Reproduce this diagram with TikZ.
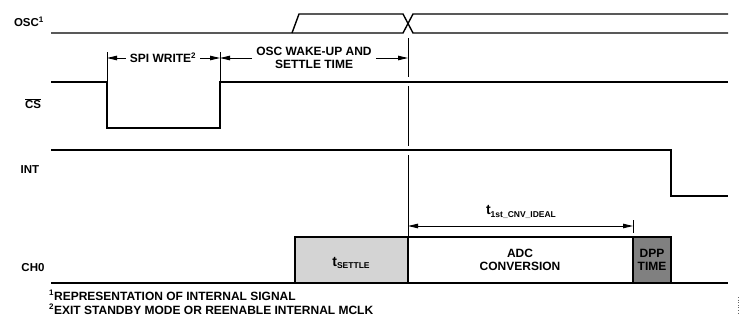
\documentclass[tikz,border=0pt]{standalone}
\usepackage{fontspec}
\setmainfont{Liberation Sans}
\usetikzlibrary{arrows.meta}
\newcommand{\subtxt}[1]{\raisebox{-0.35ex}{\fontsize{8.5}{9}\selectfont #1}}
\begin{document}
\begin{tikzpicture}[x=1pt,y=-1pt,
  sig/.style={line width=1.4pt},
  thin/.style={line width=0.9pt},
  dim/.style={line width=1pt,{Triangle[length=10pt,width=4.5pt]}-{Triangle[length=10pt,width=4.5pt]}},
  onehead/.style={line width=1pt,-{Triangle[length=10pt,width=4.5pt]}},
  lbl/.style={font=\bfseries\fontsize{11.5}{13}\selectfont, inner sep=1pt},
  txt/.style={font=\bfseries\fontsize{12}{13.5}\selectfont, align=center, inner sep=1pt},
  arrtxt/.style={txt, inner xsep=4pt},
  big/.style={font=\bfseries\fontsize{14}{15}\selectfont, inner sep=1pt},
  foot/.style={font=\bfseries\fontsize{12}{14}\selectfont, align=left, inner sep=0pt, anchor=north west}]
\useasboundingbox (0,0) rectangle (743,324);
% labels
\node[lbl] (losc) at (29,22) {OSC\textsuperscript{1}};
\node[lbl] (lcs) at (33,104) {$\overline{\mbox{CS}}$};
\node[lbl] (lint) at (30,170) {INT};
\node[lbl] (lch) at (33,268) {CH0};
% OSC
\draw[sig] (51,33) -- (403,33) -- (413,14) -- (728,14);
\draw[sig] (292,33) -- (299,14) -- (403,14) -- (413,33) -- (728,33);
% CS
\draw[sig] (51,82) -- (107,82) -- (107,128) -- (220,128) -- (220,82) -- (728,82);
% INT
\draw[sig] (51,150) -- (671,150) -- (671,196) -- (728,196);
% CH0
\draw[sig] (51,283) -- (728,283);
\draw[sig, fill=black!17] (295,283) rectangle (408,237);
\draw[sig, fill=white] (408,283) rectangle (633,237);
\draw[sig, fill=black!50] (633,283) rectangle (671,237);
\node[big] (tset) at (351,263) {t\subtxt{SETTLE}};
\node[txt] (adc) at (520,260) {ADC\\CONVERSION};
\node[txt] (dpp) at (652,260) {DPP\\TIME};
% vertical guide at 408
\draw[thin] (408,38) -- (408,77);
\draw[thin] (408,86) -- (408,146);
\draw[thin] (408,155) -- (408,237);
% SPI write ticks
\draw[thin] (107,52) -- (107,82);
\draw[thin] (220,52) -- (220,82);
\coordinate (a1) at (107,58);
\coordinate (a2) at (220,58);
\coordinate (a3) at (408,58);
\node[arrtxt] (spi) at (163,58) {SPI WRITE\textsuperscript{2}};
\draw[onehead] (spi.west) -- (a1);
\draw[onehead] (spi.east) -- (a2);
\node[arrtxt] (osc) at (314,58) {OSC WAKE-UP AND\\SETTLE TIME};
\draw[onehead] (osc.west) -- (a2);
\draw[onehead] (osc.east) -- (a3);
% t1st
\draw[thin] (633,220) -- (633,233);
\coordinate (b1) at (408,226);
\coordinate (b2) at (633,226);
\draw[dim] (b1) -- (b2);
\node[big] (t1) at (521,212) {t\subtxt{1st\_CNV\_IDEAL}};
% footnotes
\node[foot] (f1) at (49,290) {\textsuperscript{1}REPRESENTATION OF INTERNAL SIGNAL\\\textsuperscript{2}EXIT STANDBY MODE OR REENABLE INTERNAL MCLK};
\draw[line width=0.6pt, dotted, black!60] (738,297) -- (738,315);
\end{tikzpicture}
\end{document}
